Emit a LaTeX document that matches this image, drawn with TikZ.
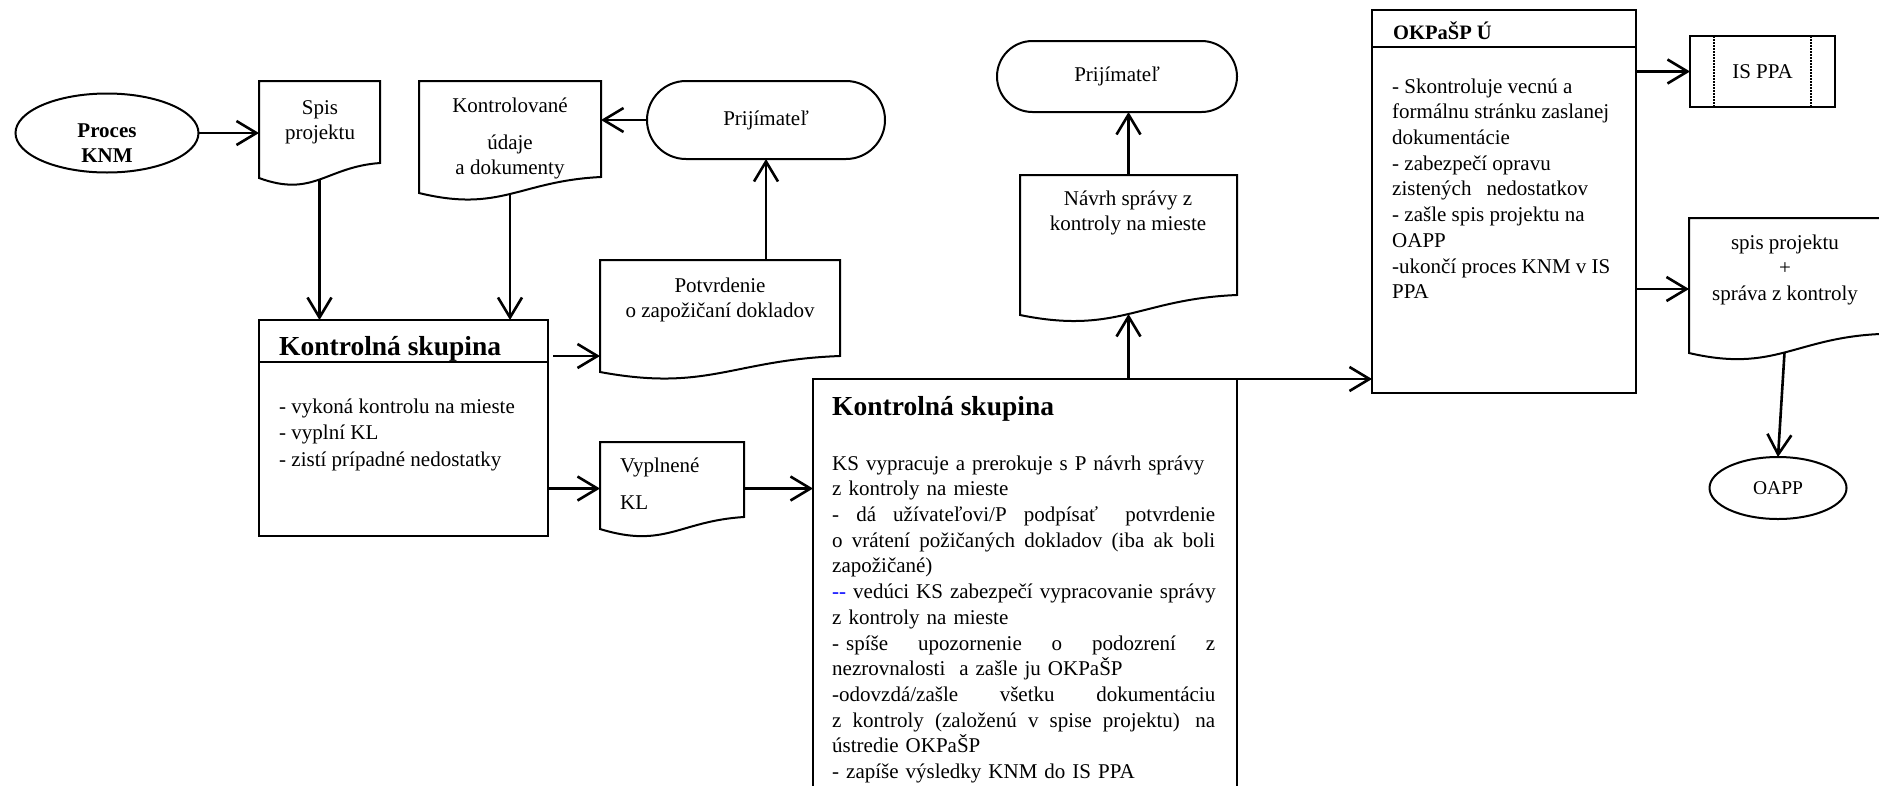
\documentclass[tikz,border=0pt]{standalone}
\usepackage{fontspec}
\setmainfont{Liberation Serif}
\usetikzlibrary{shapes.geometric,arrows.meta,calc}

\newcommand{\docframe}[2]{%
\draw[frame] (#1.south east) -- (#1.north east) -- (#1.north west)
  -- ($(#1.south west)+(0,#2)$)
  .. controls ($(#1.south west)!.45!(#1.south east)+(0,#2+20)$)
  and ($(#1.south west)!.55!(#1.south east)+(0,4)$) .. (#1.south east) -- cycle;
\coordinate (#1-b) at ($(#1.south)+(0,#2/2+9)$);
}
\newcommand{\jline}[1]{\makebox[383pt][l]{#1}}

\begin{document}
\begin{tikzpicture}[x=1pt,y=-1pt,
  frame/.style={draw, line width=2pt},
  arr/.style={line width=2.6pt, -{Straight Barb[length=20pt,width=24pt]}},
  shell/.style={inner sep=0pt, outer sep=0pt, anchor=north west},
  oval/.style={frame, ellipse, inner sep=0pt, outer sep=0pt},
  term/.style={frame, inner sep=0pt, outer sep=0pt, font=\fontsize{21}{25.7}\selectfont},
  txt/.style={inner sep=0pt, anchor=north, align=center, font=\fontsize{21}{25.7}\selectfont},
  body/.style={inner sep=0pt, anchor=north west, align=left, font=\fontsize{21}{25.7}\selectfont},
  ttl/.style={inner sep=0pt, anchor=base west, font=\bfseries\fontsize{27.5}{30}\selectfont}]

\useasboundingbox (0,0) rectangle (1879,785);

\node[oval, minimum width=183pt, minimum height=79pt] (knm) at (107,133) {};
\node[txt, font=\bfseries\fontsize{21}{25}\selectfont] (knm-t) at (107,119.5) {\strut Proces\\KNM};

\node[shell, minimum width=121pt, minimum height=82pt] (spis) at (259,81) {};
\docframe{spis}{15}
\node[txt] (spis-t) at (320,96) {\strut Spis\\projektu};

\node[shell, minimum width=182pt, minimum height=96pt] (kontr) at (419,81) {};
\docframe{kontr}{16}
\node[txt] (kontr-t) at (510,94) {\strut Kontrolované\\[11.3pt]údaje\\a dokumenty};

\node[term, rounded corners=39pt, minimum width=238pt, minimum height=78pt] (prij1) at (766,120) {Prijímateľ};

\node[shell, minimum width=240pt, minimum height=96pt] (potv) at (600,260) {};
\docframe{potv}{16}
\node[txt] (potv-t) at (720,274) {\strut Potvrdenie\\o zapožičaní dokladov};

\node[frame, shell, minimum width=289pt, minimum height=216pt] (ks1) at (259,320) {};
\draw[line width=2.6pt] ($(ks1.north west)+(0,42)$) -- ($(ks1.north east)+(0,42)$);
\node[ttl] (ks1-t) at (279,355) {Kontrolná skupina};
\node[body, font=\fontsize{21}{26.5}\selectfont] (ks1-b) at (279,394.5) {\strut- vykoná kontrolu na mieste\\- vyplní KL\\- zistí prípadné nedostatky};

\node[shell, minimum width=144pt, minimum height=75pt] (vypl) at (600,442) {};
\docframe{vypl}{12}
\node[body] (vypl-t) at (620,454) {\strut Vyplnené\\[11.3pt]KL};

\node[frame, shell, minimum width=424pt, minimum height=420pt] (ks2) at (813,379) {};
\node[ttl] (ks2-t) at (832,415) {Kontrolná skupina};
\node[body, text width=383pt] (ks2-b) at (832,452) {\strut KS vypracuje a prerokuje s P návrh správy\\
z kontroly na mieste\\
\jline{- \hfill dá \hfill užívateľovi/P \hfill podpísať \hfill\hfill potvrdenie}\\
\jline{o \hfill vrátení \hfill požičaných \hfill dokladov \hfill (iba \hfill ak \hfill boli}\\
zapožičané)\\
\jline{\textcolor{blue}{-{}-} \hfill vedúci \hfill KS \hfill zabezpečí \hfill vypracovanie \hfill správy}\\
z kontroly na mieste\\
\jline{- spíše \hfill upozornenie \hfill o \hfill podozrení \hfill z}\\
nezrovnalosti\ \ a zašle ju OKPaŠP\\
\jline{-odovzdá/zašle \hfill všetku \hfill dokumentáciu}\\
\jline{z \hfill kontroly \hfill (založenú \hfill v \hfill spise \hfill projektu) \hfill\hfill na}\\
ústredie OKPaŠP\\
- zapíše výsledky KNM do IS PPA};

\node[shell, minimum width=217pt, minimum height=120pt] (navrh) at (1020,175) {};
\docframe{navrh}{20}
\node[txt] (navrh-t) at (1128,187) {\strut Návrh správy z\\kontroly na mieste};

\node[term, rounded corners=35.5pt, minimum width=240pt, minimum height=71pt] (prij2) at (1117,76.5) {Prijímateľ};

\node[frame, shell, minimum width=264pt, minimum height=383pt] (okp) at (1372,10) {};
\draw[frame] ($(okp.north west)+(0,37)$) -- ($(okp.north east)+(0,37)$);
\node[ttl, font=\bfseries\fontsize{20.5}{25}\selectfont] (okp-t) at (1393,39) {OKPaŠP Ú};
\node[body] (okp-b) at (1392,75) {\strut- Skontroluje vecnú a\\formálnu stránku zaslanej\\dokumentácie\\- zabezpečí opravu\\zistených\hspace{15pt}nedostatkov\\- zašle spis projektu na\\OAPP\\-ukončí proces KNM v IS\\PPA};

\node[frame, shell, minimum width=145pt, minimum height=71pt, font=\fontsize{21}{25.7}\selectfont] (ispa) at (1690,36) {IS PPA};
\draw[line width=1.5pt, dash pattern=on 1.5pt off 1.5pt] ($(ispa.north west)+(24,0)$) -- ($(ispa.south west)+(24,0)$);
\draw[line width=1.5pt, dash pattern=on 1.5pt off 1.5pt] ($(ispa.north east)+(-24,0)$) -- ($(ispa.south east)+(-24,0)$);

\node[shell, minimum width=191pt, minimum height=116pt] (spr) at (1689,218) {};
\docframe{spr}{19}
\node[txt] (spr-t) at (1785,231) {\strut spis projektu\\+\\správa z kontroly};

\node[oval, minimum width=137pt, minimum height=62pt, font=\fontsize{19.5}{24}\selectfont] (oapp) at (1778,488) {OAPP};

\draw[arr] (knm.east) -- (knm.east -| spis.west);
\draw[arr] (spis-b) -- (spis-b |- ks1.north);
\draw[arr] (kontr-b) -- (kontr-b |- ks1.north);
\draw[arr] (prij1.west) -- (prij1.west -| kontr.east);
\draw[arr] (potv.north -| prij1.south) -- (prij1.south);
\draw[arr] ($(ks1.east |- potv.south west)+(5,0)$) -- (potv.south west);
\draw[arr] ($(ks1.east |- vypl.west)+(0,9)$) -- ($(vypl.west)+(0,9)$);
\draw[arr] ($(vypl.east)+(0,9)$) -- ($(vypl.east -| ks2.west)+(0,9)$);
\draw[arr] (navrh-b |- ks2.north) -- (navrh-b);
\draw[arr] (navrh.north) -- (navrh.north |- prij2.south);
\draw[arr] (ks2.north east) -- (ks2.north east -| okp.west);
\draw[arr] (okp.east |- ispa.west) -- (ispa.west);
\draw[arr] ($(okp.east |- spr.west)+(0,13)$) -- ($(spr.west)+(0,13)$);
\draw[arr] (spr-b) -- (oapp.north);
\end{tikzpicture}
\end{document}
